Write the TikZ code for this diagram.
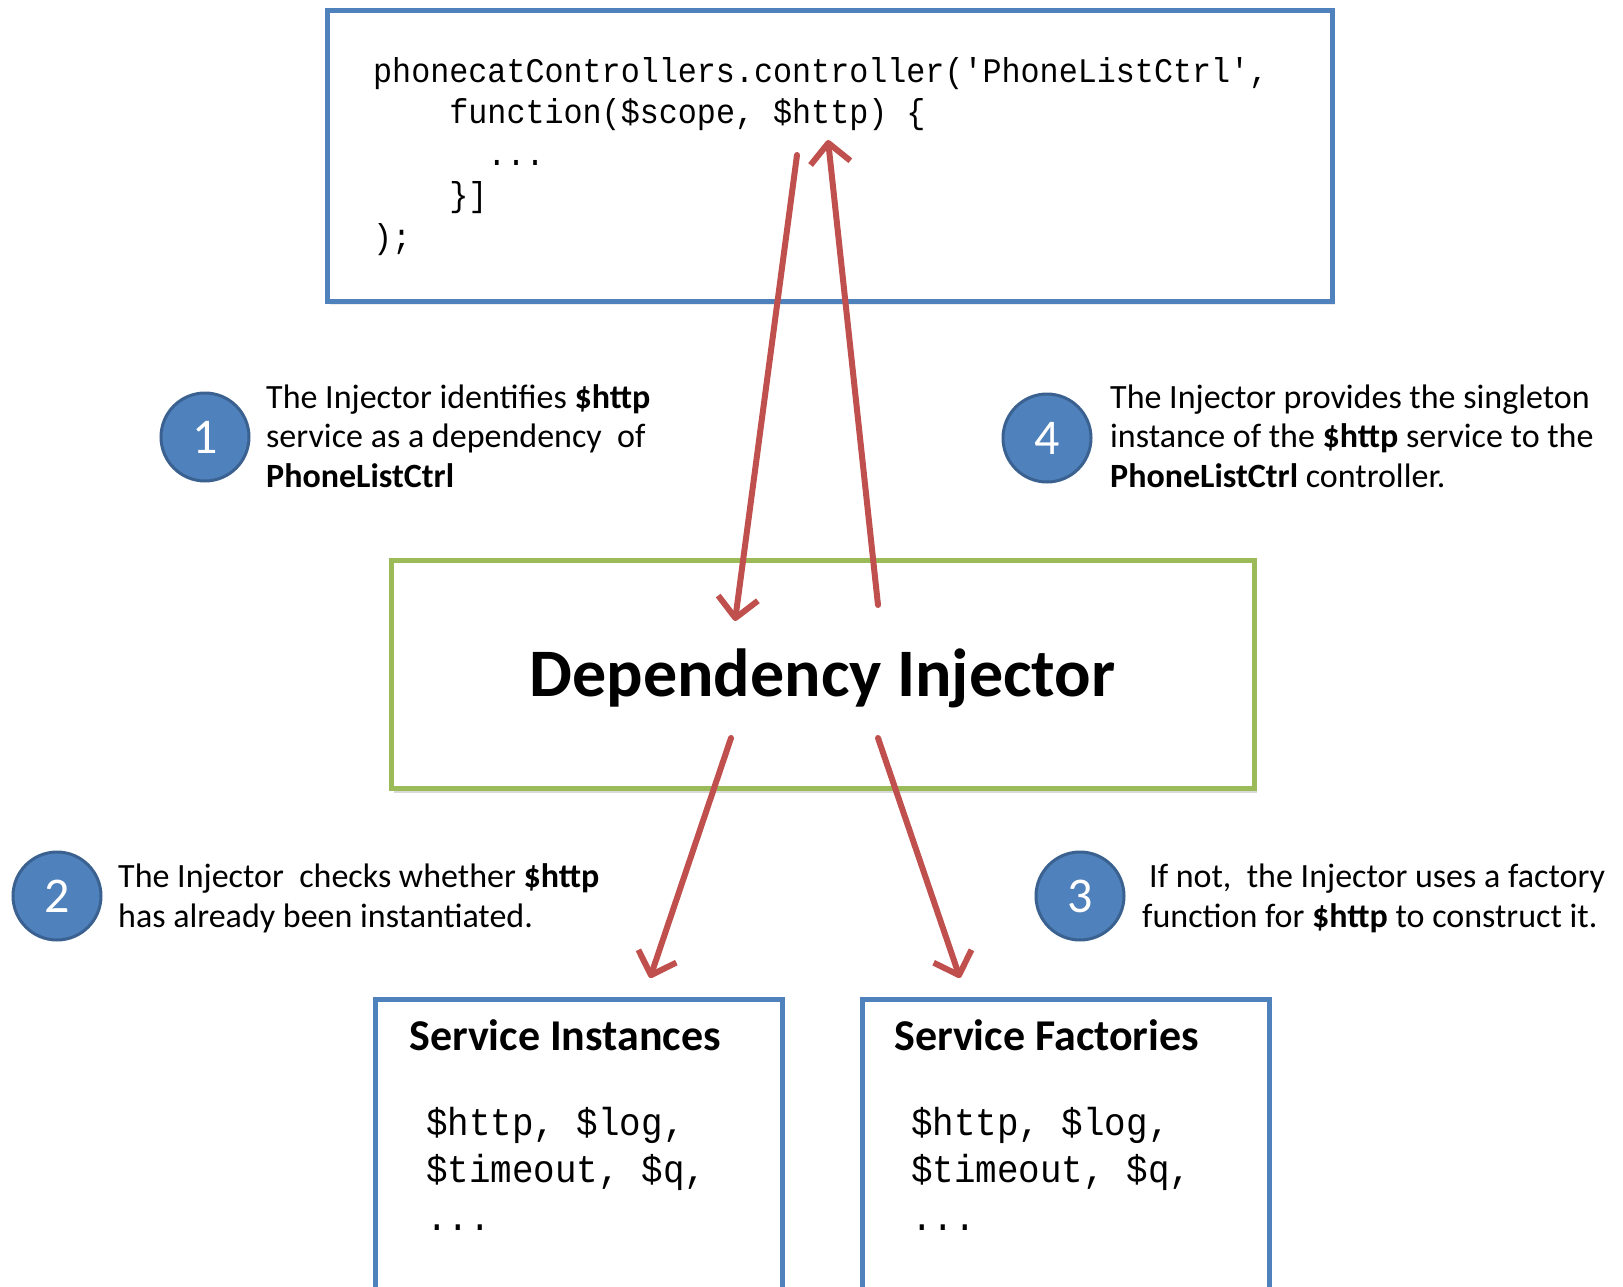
\documentclass[tikz,border=0pt]{standalone}
\usepackage{fontspec}
\setmainfont{Carlito}
\newfontfamily\codefont[FakeStretch=0.92,Ligatures=TeXOff]{Liberation Mono}
\usetikzlibrary{arrows.meta,shadows}
\definecolor{boxblue}{HTML}{4F81BD}
\definecolor{ringblue}{HTML}{3A6190}
\definecolor{injgreen}{HTML}{9BBB59}
\definecolor{flowred}{HTML}{C0504D}

\begin{document}
\begin{tikzpicture}[x=1pt,y=-1pt,
  frame/.style={draw=boxblue, line width=5pt, fill=white, inner sep=0pt},
  badge/.style={circle, fill=boxblue, draw=ringblue, line width=3pt,
    minimum size=88pt, inner sep=0pt, text=white,
    font=\fontsize{50}{50}\selectfont},
  % multi-line texts are placed by the baseline of their last line
  note/.style={anchor=base west, inner sep=0pt, align=left,
    font=\fontsize{34}{39.5}\selectfont},
  codetext/.style={anchor=base west, inner sep=0pt, align=left,
    font=\codefont\fontsize{34.5}{41.5}\selectfont},
  listtext/.style={anchor=base west, inner sep=0pt, align=left,
    font=\codefont\fontsize{39}{47.5}\selectfont},
  boxtitle/.style={anchor=base west, inner sep=0pt,
    font=\bfseries\fontsize{44}{44}\selectfont},
  flow/.style={draw=flowred, line width=6pt, line cap=round, line join=round,
    -{Straight Barb[length=20pt,width=40pt,line join=round]}},
]
\useasboundingbox (0,0) rectangle (1623,1287);

% controller source box
\node[frame, anchor=north west, minimum width=1005pt, minimum height=291pt,
  drop shadow={opacity=0.15, shadow xshift=2pt, shadow yshift=-3pt}] (ctrl) at (325,8) {};
\node[codetext] (code) at (373,248) {phonecatControllers.controller('PhoneListCtrl',\\
\phantom{xxxx}function(\$scope, \$http) \{\\
\phantom{xxxxxx}...\\
\phantom{xxxx}\}]\\
);};

% injector box and its label
\node[draw=injgreen, line width=5pt, fill=white, minimum width=863pt, minimum height=228pt,
  drop shadow={opacity=0.3, shadow xshift=3pt, shadow yshift=-5pt}] (inj) at (822.5,674) {};
\node[font=\bfseries\fontsize{68}{68}\selectfont, inner sep=0pt]
  (injlabel) at ([yshift=-4pt]inj.center) {Dependency Injector};

% service stores
\node[frame, anchor=north west, minimum width=407pt, minimum height=320pt,
  drop shadow={opacity=0.15, shadow xshift=2pt, shadow yshift=-3pt}] (inst) at (373,997) {};
\node[frame, anchor=north west, minimum width=407pt, minimum height=320pt,
  drop shadow={opacity=0.15, shadow xshift=2pt, shadow yshift=-3pt}] (fact) at (860,997) {};
\node[boxtitle] (insttitle) at (409,1050) {Service Instances};
\node[boxtitle] (facttitle) at (894,1050) {Service Factories};
\node[listtext] (instlist) at (426,1230) {\$http, \$log,\\\$timeout, \$q,\\...};
\node[listtext] (factlist) at (911,1230) {\$http, \$log,\\\$timeout, \$q,\\...};

% numbered steps
\node[badge] (b1) at (205,437) {1};
\node[badge] (b4) at (1047,438) {4};
\node[badge] (b2) at (57,896) {2};
\node[badge] (b3) at (1080,896) {3};

\node[note] (n1) at (266,487) {The Injector identifies \textbf{\$http}\\
service as a dependency\ \ of\\
\textbf{PhoneListCtrl}};
\node[note] (n4) at (1110,487) {The Injector provides the singleton\\
instance of the \textbf{\$http} service to the\\
\textbf{PhoneListCtrl} controller.};
\node[note] (n2) at (118,927) {The Injector\ \ checks whether\ \textbf{\$http}\\
has already been instantiated.};
\node[note] (n3) at (1142,927) {\hspace{7pt}If not,\ \ the Injector uses a factory\\
function for \textbf{\$http} to construct it.};

% flow arrows
\coordinate (a1s) at (797,155);
\coordinate (a1e) at (735,621);
\coordinate (a4s) at (878,605);
\coordinate (a4e) at (828,140);
\coordinate (a2s) at (731,738);
\coordinate (a2e) at (650,978);
\coordinate (a3s) at (878,738);
\coordinate (a3e) at (960,978);
\draw[flow] (a1s) -- (a1e);
\draw[flow] (a4s) -- (a4e);
\draw[flow] (a2s) -- (a2e);
\draw[flow] (a3s) -- (a3e);
\end{tikzpicture}
\end{document}
